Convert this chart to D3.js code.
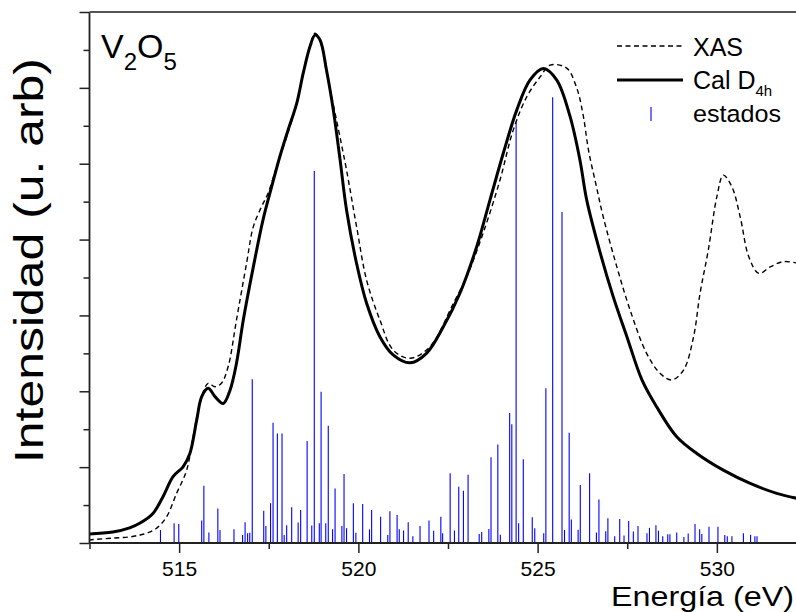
<!DOCTYPE html>
<html>
<head>
<meta charset="utf-8">
<script src="https://cdnjs.cloudflare.com/ajax/libs/d3/7.8.5/d3.min.js"></script>
<style>
  html, body { margin: 0; padding: 0; background: #fff; }
  svg { display: block; font-family: "Liberation Sans", Arial, Helvetica, sans-serif; }
</style>
</head>
<body>
<svg id="chart" width="796" height="612"></svg>
<script>
// ---- Data ----
const energyCal = [512.48,513.15,513.62,513.90,514.27,514.55,514.83,515.11,515.30,515.49,515.63,515.81,516.00,516.23,516.42,516.60,516.79,517.07,517.34,517.58,517.81,518.04,518.28,518.46,518.65,518.79,518.93,519.11,519.30,519.49,519.67,519.95,520.23,520.60,520.97,521.44,521.90,522.37,522.83,523.30,523.67,524.04,524.42,524.79,525.16,525.53,525.90,526.18,526.37,526.74,527.11,527.49,527.91,528.32,528.88,529.44,530.18,530.93,531.67,532.32];
const intensityCal = [0.24,0.29,0.40,0.52,0.78,1.22,1.75,2.01,2.36,3.24,3.86,4.08,3.86,3.68,4.03,4.74,5.88,7.28,8.52,9.39,10.19,10.89,11.59,12.38,13.09,13.39,13.26,12.47,11.42,10.10,8.78,7.37,6.32,5.44,4.96,4.75,5.00,5.70,6.58,7.81,9.04,10.27,11.42,12.21,12.51,12.21,11.26,10.10,9.04,7.67,6.49,5.44,4.30,3.59,2.80,2.36,1.92,1.57,1.31,1.16];

const energyXAS = [512.48,513.15,513.62,513.90,514.10,514.37,514.65,514.93,515.21,515.39,515.58,515.81,516.00,516.18,516.37,516.60,516.88,517.07,517.30,517.48,517.72,518.00,518.28,518.46,518.65,518.79,518.93,519.11,519.39,519.67,519.95,520.23,520.60,520.97,521.44,522.00,522.65,523.02,523.48,523.95,524.32,524.70,525.07,525.35,525.81,526.09,526.27,526.42,526.63,526.83,527.21,527.58,528.04,528.42,528.74,529.07,529.35,529.53,529.76,530.00,530.18,530.42,530.65,530.89,531.17,531.49,531.86,532.33];
const intensityXAS = [0.08,0.13,0.16,0.21,0.26,0.39,0.69,1.31,1.92,2.80,3.68,4.21,4.12,4.21,4.66,5.88,7.37,8.34,8.87,9.22,9.92,10.71,11.59,12.38,13.09,13.44,13.26,12.42,11.15,9.83,8.34,6.93,5.88,5.09,4.87,5.18,6.32,7.02,8.17,9.57,10.89,11.77,12.29,12.60,12.52,12.00,11.28,10.35,9.44,8.60,7.28,6.14,5.00,4.47,4.30,4.56,5.44,6.58,7.72,9.13,9.70,9.39,8.60,7.55,7.11,7.28,7.42,7.36];

const stickEnergy = [514.48,514.86,514.99,515.63,515.69,515.83,516.08,516.14,516.53,516.77,516.84,516.91,516.97,517.04,517.36,517.42,517.55,517.62,517.74,517.87,517.93,518.00,518.14,518.32,518.39,518.57,518.70,518.77,518.91,518.96,519.09,519.16,519.28,519.35,519.54,519.60,519.67,519.86,519.93,520.12,520.31,520.37,520.62,520.82,520.88,521.08,521.14,521.26,521.39,521.52,521.72,521.97,522.10,522.30,522.35,522.56,522.68,522.80,522.93,523.06,523.37,523.44,523.64,523.70,523.89,523.96,524.22,524.28,524.40,524.47,524.60,524.85,524.92,525.17,525.23,525.42,525.68,525.75,525.88,525.94,526.13,526.19,526.45,526.64,526.71,526.90,526.96,527.15,527.29,527.41,527.54,527.67,527.80,528.05,528.12,528.30,528.37,528.49,528.63,528.69,528.88,529.08,529.20,529.39,529.52,529.58,529.78,530.03,530.22,530.29,530.42,530.74,530.94,531.06,531.12];
const stickHeight = [0.34,0.52,0.50,0.59,1.51,0.28,0.91,0.34,0.36,0.21,0.55,0.26,0.27,4.32,0.85,0.45,1.05,3.17,2.89,2.89,0.21,0.47,0.94,0.54,0.87,2.69,0.46,9.81,0.52,3.99,0.52,3.09,0.36,1.44,0.45,1.82,0.39,1.05,0.27,1.03,0.36,0.87,0.69,0.21,0.84,0.74,0.36,0.33,0.55,0.18,0.45,0.59,0.32,0.69,0.26,1.84,0.33,1.48,1.38,1.80,0.24,0.29,0.37,2.26,2.60,0.22,3.43,3.13,11.09,0.52,2.21,0.68,0.39,0.26,4.08,11.75,8.73,0.34,2.91,0.62,0.35,1.53,1.84,0.28,1.15,0.31,0.65,0.18,0.63,0.20,0.58,0.30,0.45,0.26,0.40,0.47,0.32,0.18,0.23,0.23,0.28,0.16,0.25,0.50,0.36,0.24,0.43,0.43,0.21,0.18,0.18,0.26,0.22,0.18,0.18];

const xMajorTicks = [515, 520, 525, 530];
const xMinorTicks = [512.5, 517.5, 522.5, 527.5, 532.5];
const yMajorTicks = [0, 2, 4, 6, 8, 10, 12, 14];
const yMinorTicks = [1, 3, 5, 7, 9, 11, 13];

const legendLabels = ["XAS", "Cal D", "estados"];

// ---- Layout ----
const W = 796, H = 612;
const mLeft = 89.5, mTop = 12, mBottom = 543;
const svg = d3.select("#chart");
svg.append("rect").attr("width", W).attr("height", H).attr("fill", "#fff");

const x = d3.scaleLinear().domain([512.5, 532.5]).range([mLeft, mLeft + 20 * 35.85]);
const y = d3.scaleLinear().domain([0, 14]).range([mBottom, mTop]);

svg.append("defs").append("clipPath").attr("id", "plotclip")
  .append("rect").attr("x", mLeft).attr("y", mTop).attr("width", W - mLeft).attr("height", mBottom - mTop);

const plot = svg.append("g").attr("clip-path", "url(#plotclip)");

// sticks
plot.append("g").selectAll("line").data(stickEnergy).join("line")
  .attr("x1", (d) => x(d)).attr("x2", (d) => x(d))
  .attr("y1", y(0)).attr("y2", (d, i) => y(stickHeight[i]))
  .attr("stroke", "#0000ff").attr("stroke-width", 1.1);

const line = d3.line().curve(d3.curveCatmullRom.alpha(0.5));

// XAS dashed
plot.append("path")
  .attr("d", line(energyXAS.map((e, i) => [x(e), y(intensityXAS[i])])))
  .attr("fill", "none").attr("stroke", "#000").attr("stroke-width", 1.4)
  .attr("stroke-dasharray", "5,3.5");

// Calc solid
plot.append("path")
  .attr("d", line(energyCal.map((e, i) => [x(e), y(intensityCal[i])])))
  .attr("fill", "none").attr("stroke", "#000").attr("stroke-width", 3)
  .attr("stroke-linejoin", "round");

// ---- Axes ----
const axisColor = "#222";
const gx = svg.append("g").attr("transform", `translate(0,${mBottom})`)
  .call(d3.axisBottom(x).tickValues(xMajorTicks).tickSize(10).tickPadding(8).tickFormat(d3.format("d")));
const gxm = svg.append("g").attr("transform", `translate(0,${mBottom})`)
  .call(d3.axisBottom(x).tickValues(xMinorTicks).tickSize(6).tickFormat(""));
const gy = svg.append("g").attr("transform", `translate(${mLeft},0)`)
  .call(d3.axisLeft(y).tickValues(yMajorTicks).tickSize(10).tickFormat(""));
const gym = svg.append("g").attr("transform", `translate(${mLeft},0)`)
  .call(d3.axisLeft(y).tickValues(yMinorTicks).tickSize(6).tickFormat(""));
[gx, gxm, gy, gym].forEach((g) => {
  g.select(".domain").remove();
  g.selectAll(".tick line").attr("stroke", axisColor).attr("stroke-width", 1.5);
});
gx.selectAll(".tick text").attr("font-size", 21).attr("fill", "#000")
  .attr("font-family", "Liberation Sans, Arial, sans-serif");

// frame lines
svg.append("line").attr("x1", mLeft).attr("x2", W).attr("y1", mBottom).attr("y2", mBottom)
  .attr("stroke", axisColor).attr("stroke-width", 1.8);
svg.append("line").attr("x1", mLeft).attr("x2", mLeft).attr("y1", mTop).attr("y2", mBottom)
  .attr("stroke", axisColor).attr("stroke-width", 1.8);
svg.append("line").attr("x1", mLeft).attr("x2", W).attr("y1", mTop).attr("y2", mTop)
  .attr("stroke", "#555").attr("stroke-width", 1.8);

// ---- Axis titles ----
svg.append("text").attr("x", 611).attr("y", 605.5)
  .attr("font-size", 27.5).attr("textLength", 183).attr("lengthAdjust", "spacingAndGlyphs")
  .text("Energía (eV)");

svg.append("text").attr("transform", "translate(43,463) rotate(-90)")
  .attr("font-size", 40).attr("textLength", 405).attr("lengthAdjust", "spacingAndGlyphs")
  .text("Intensidad (u. arb)");

// ---- V2O5 label ----
const tl = svg.append("text").attr("x", 101).attr("y", 58).attr("font-size", 34);
tl.append("tspan").text("V");
tl.append("tspan").attr("font-size", 24).attr("dy", 12).text("2");
tl.append("tspan").attr("dy", -12).text("O");
tl.append("tspan").attr("font-size", 24).attr("dy", 12).text("5");

// ---- Legend ----
const lg = svg.append("g");
lg.append("line").attr("x1", 617).attr("x2", 685).attr("y1", 46).attr("y2", 46)
  .attr("stroke", "#000").attr("stroke-width", 1.4).attr("stroke-dasharray", "5,3.5");
lg.append("line").attr("x1", 617).attr("x2", 683).attr("y1", 80).attr("y2", 80)
  .attr("stroke", "#000").attr("stroke-width", 3);
lg.append("line").attr("x1", 651).attr("x2", 651).attr("y1", 107).attr("y2", 121)
  .attr("stroke", "#0000ff").attr("stroke-width", 1.1);
lg.append("text").attr("x", 693).attr("y", 55.5).attr("font-size", 25).text(legendLabels[0]);
const cal = lg.append("text").attr("x", 693).attr("y", 88.5).attr("font-size", 25);
cal.append("tspan").text(legendLabels[1]);
cal.append("tspan").attr("font-size", 15).attr("dy", 7.5).text("4h");
lg.append("text").attr("x", 693).attr("y", 122).attr("font-size", 24.5)
  .attr("textLength", 88).attr("lengthAdjust", "spacingAndGlyphs").text(legendLabels[2]);
</script>
</body>
</html>
